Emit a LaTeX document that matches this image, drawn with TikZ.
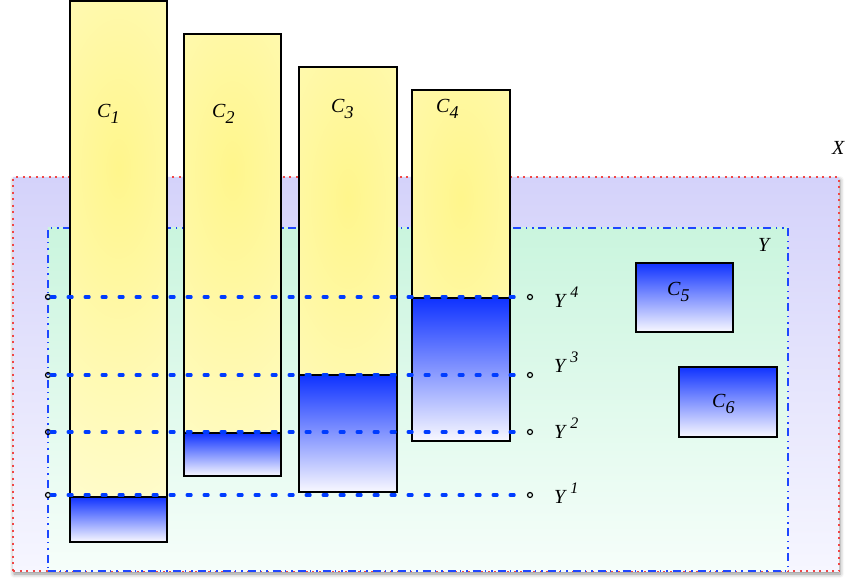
\documentclass[tikz,border=0pt]{standalone}
\usepackage{fontspec}
\setmainfont{Liberation Serif}
\usetikzlibrary{shadows.blur,calc}
\definecolor{xtop}{RGB}{212,210,250}
\definecolor{xbot}{RGB}{246,246,255}
\definecolor{ytop}{RGB}{202,245,222}
\definecolor{ybot}{RGB}{246,254,250}
\definecolor{yelin}{RGB}{255,246,140}
\definecolor{yelout}{RGB}{255,254,228}
\definecolor{bluetop}{RGB}{15,50,255}
\definecolor{bluebot}{RGB}{248,248,255}
\definecolor{dotblue}{RGB}{0,60,255}
\definecolor{xred}{RGB}{240,70,70}
\definecolor{yblue}{RGB}{30,70,255}
\newcommand{\mysub}[1]{\raisebox{-6pt}{\fontsize{18}{20}\selectfont\textit{#1}}}
\newcommand{\mysup}[1]{\,\raisebox{10pt}{\fontsize{16}{18}\selectfont\textit{#1}}}
\tikzset{
  xbox/.style={draw=xred, line width=2pt, dash pattern=on 2pt off 4.5pt,
    top color=xtop, bottom color=xbot, inner sep=0pt, anchor=north west,
    blur shadow={shadow xshift=1pt, shadow yshift=-3pt, shadow blur radius=4pt, shadow opacity=45}},
  ybox/.style={draw=yblue, line width=1.8pt,
    dash pattern=on 8pt off 4pt on 1.5pt off 5pt on 1.5pt off 5pt,
    top color=ytop, bottom color=ybot, inner sep=0pt, anchor=north west},
  cbox/.style={draw=black, line width=1.5pt, fill=yelout, inner sep=0pt, anchor=north west,
    path picture={\shade[inner color=yelin, outer color=yelout]
      ($(path picture bounding box.north)!0.31!(path picture bounding box.south)$)
      ellipse [x radius=200pt, y radius=480pt];}},
  bbox/.style={draw=black, line width=1.5pt, top color=bluetop, bottom color=bluebot,
    inner sep=0pt, anchor=north west},
  endpt/.style={circle, draw=black, line width=1.2pt, inner sep=0pt, minimum size=5pt},
  dotline/.style={draw=dotblue, line width=3.2pt, line cap=round, dash pattern=on 4pt off 13pt},
  lab/.style={inner sep=0pt, anchor=base west, font=\fontsize{20}{22}\selectfont}
}
\begin{document}
\begin{tikzpicture}[x=1pt,y=-1pt]
\useasboundingbox (0,0) rectangle (846,581);
% outer sets
\node[xbox, minimum width=826pt, minimum height=394pt] (X) at (12,176) {};
\node[ybox, minimum width=740pt, minimum height=343pt] (Y) at (47,227) {};
\node[lab] (Xl) at (832,154) {\textit{X}};
\node[lab] (Yl) at (758,251) {\textit{Y}};
% columns
\node[cbox, minimum width=97pt, minimum height=541pt] (C1) at (69,0) {};
\node[bbox, minimum width=97pt, minimum height=45pt] (B1) at (69,496) {};
\node[cbox, minimum width=97pt, minimum height=442pt] (C2) at (183,33) {};
\node[bbox, minimum width=97pt, minimum height=43pt] (B2) at (183,432) {};
\node[cbox, minimum width=98pt, minimum height=425pt] (C3) at (298,66) {};
\node[bbox, minimum width=98pt, minimum height=117pt] (B3) at (298,374) {};
\node[cbox, minimum width=98pt, minimum height=351pt] (C4) at (411,89) {};
\node[bbox, minimum width=98pt, minimum height=143pt] (B4) at (411,297) {};
\node[bbox, minimum width=97pt, minimum height=69pt] (C5) at (635,262) {};
\node[bbox, minimum width=98pt, minimum height=70pt] (C6) at (678,366) {};
\node[lab] (C1l) at (97,117) {\textit{C}\mysub{1}};
\node[lab] (C2l) at (212,117) {\textit{C}\mysub{2}};
\node[lab] (C3l) at (331,112) {\textit{C}\mysub{3}};
\node[lab] (C4l) at (436,112) {\textit{C}\mysub{4}};
\node[lab] (C5l) at (667,295) {\textit{C}\mysub{5}};
\node[lab] (C6l) at (712,407) {\textit{C}\mysub{6}};
% levels
\foreach \k/\yy in {4/297,3/375,2/432,1/495}{
  \node[endpt] (l\k) at (48,\yy) {};
  \node[endpt] (r\k) at (530,\yy) {};
  \draw[dotline] (l\k) -- (r\k);
}
\node[lab] (Y4) at (554,307) {\textit{Y}\mysup{4}};
\node[lab] (Y3) at (554,372) {\textit{Y}\mysup{3}};
\node[lab] (Y2) at (554,438) {\textit{Y}\mysup{2}};
\node[lab] (Y1) at (554,503) {\textit{Y}\mysup{1}};
\end{tikzpicture}
\end{document}
